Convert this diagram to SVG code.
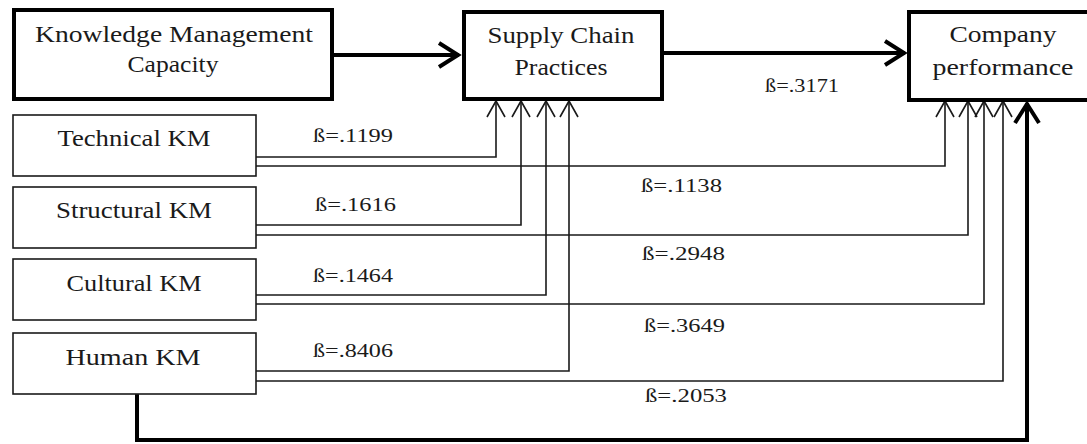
<svg xmlns="http://www.w3.org/2000/svg" width="1087" height="444" viewBox="0 0 1087 444">
<style>
.thick{fill:#fff;stroke:#000;stroke-width:4}
.thin{fill:#fff;stroke:#1a1a1a;stroke-width:1.6}
.lbl{font-family:"Liberation Serif","DejaVu Serif",serif;font-size:24px;fill:#1a1a1a;text-anchor:middle}
.b{font-family:"Liberation Serif","DejaVu Serif",serif;font-size:19px;fill:#1a1a1a}
.c{fill:none;stroke:#1a1a1a;stroke-width:1.6}
.ct{fill:none;stroke:#000;stroke-width:4}
</style>
<defs>
<marker id="ah" markerUnits="userSpaceOnUse" markerWidth="24" markerHeight="24" viewBox="-20 -12 24 24" refX="0" refY="0" orient="auto">
<path d="M-16,-9 L0,0 L-16,9" fill="none" stroke="#1a1a1a" stroke-width="1.6"/>
</marker>
<marker id="aht" markerUnits="userSpaceOnUse" markerWidth="32" markerHeight="32" viewBox="-24 -16 32 32" refX="1" refY="0" orient="auto">
<path d="M-19,-12 L0,0 L-19,12" fill="none" stroke="#000" stroke-width="4"/>
</marker>
</defs>
<g id="connectors">
<path class="ct" d="M333,55 H459" marker-end="url(#aht)"/>
<path class="ct" d="M663,53 H905" marker-end="url(#aht)"/>
<path class="c" d="M256,157 H496 V101" marker-end="url(#ah)"/>
<path class="c" d="M256,166 H945 V101" marker-end="url(#ah)"/>
<path class="c" d="M256,225 H521 V101" marker-end="url(#ah)"/>
<path class="c" d="M256,235 H968 V101" marker-end="url(#ah)"/>
<path class="c" d="M256,295 H546 V101" marker-end="url(#ah)"/>
<path class="c" d="M256,304 H984 V101" marker-end="url(#ah)"/>
<path class="c" d="M256,371 H569 V101" marker-end="url(#ah)"/>
<path class="c" d="M256,381 H1003 V101" marker-end="url(#ah)"/>
<path class="ct" d="M137,394 V440 H1027 V103" marker-end="url(#aht)"/>
<text class="b" x="313" y="142" textLength="80" lengthAdjust="spacingAndGlyphs">ß=.1199</text>
<text class="b" x="315" y="211" textLength="81" lengthAdjust="spacingAndGlyphs">ß=.1616</text>
<text class="b" x="313" y="282" textLength="80" lengthAdjust="spacingAndGlyphs">ß=.1464</text>
<text class="b" x="313" y="357" textLength="80" lengthAdjust="spacingAndGlyphs">ß=.8406</text>
<text class="b" x="765" y="92" textLength="74" lengthAdjust="spacingAndGlyphs">ß=.3171</text>
<text class="b" x="641" y="192" textLength="81" lengthAdjust="spacingAndGlyphs">ß=.1138</text>
<text class="b" x="642" y="260" textLength="83" lengthAdjust="spacingAndGlyphs">ß=.2948</text>
<text class="b" x="644" y="332" textLength="81" lengthAdjust="spacingAndGlyphs">ß=.3649</text>
<text class="b" x="645" y="402" textLength="82" lengthAdjust="spacingAndGlyphs">ß=.2053</text>
</g>
<g id="kmc">
<rect class="thick" x="14" y="10" width="318" height="89"/>
<text class="lbl" x="174" y="42" textLength="278" lengthAdjust="spacingAndGlyphs">Knowledge Management</text>
<text class="lbl" x="173" y="72" textLength="91" lengthAdjust="spacingAndGlyphs">Capacity</text>
</g>
<g id="scp">
<rect class="thick" x="464" y="12" width="198" height="87"/>
<text class="lbl" x="561" y="43" textLength="147" lengthAdjust="spacingAndGlyphs">Supply Chain</text>
<text class="lbl" x="561" y="75" textLength="93" lengthAdjust="spacingAndGlyphs">Practices</text>
</g>
<g id="cp">
<rect class="thick" x="909" y="12" width="186" height="88"/>
<text class="lbl" x="1003" y="42" textLength="107" lengthAdjust="spacingAndGlyphs">Company</text>
<text class="lbl" x="1003" y="75" textLength="141" lengthAdjust="spacingAndGlyphs">performance</text>
</g>
<g id="technical">
<rect class="thin" x="13" y="115" width="243" height="61"/>
<text class="lbl" x="134" y="146" textLength="153" lengthAdjust="spacingAndGlyphs">Technical KM</text>
</g>
<g id="structural">
<rect class="thin" x="13" y="187" width="243" height="61"/>
<text class="lbl" x="134" y="218" textLength="156" lengthAdjust="spacingAndGlyphs">Structural KM</text>
</g>
<g id="cultural">
<rect class="thin" x="13" y="259" width="243" height="61"/>
<text class="lbl" x="134" y="291" textLength="135" lengthAdjust="spacingAndGlyphs">Cultural KM</text>
</g>
<g id="human">
<rect class="thin" x="13" y="333" width="243" height="61"/>
<text class="lbl" x="133" y="365" textLength="135" lengthAdjust="spacingAndGlyphs">Human KM</text>
</g>
</svg>
